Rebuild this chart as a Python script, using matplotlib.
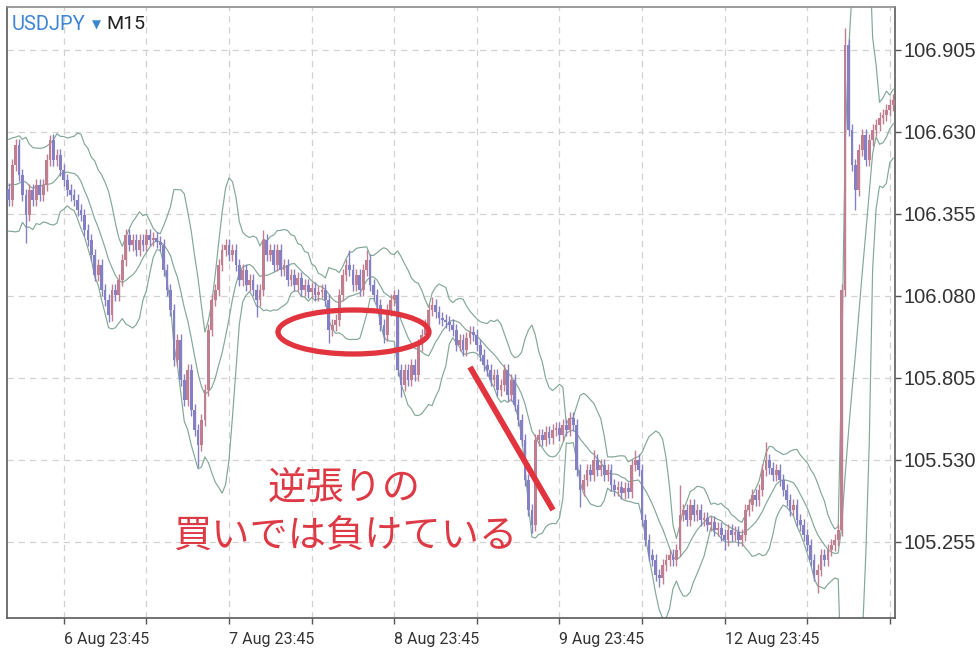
import matplotlib
matplotlib.use("Agg")
import matplotlib.pyplot as plt
from matplotlib.patches import Ellipse
from matplotlib.lines import Line2D
import numpy as np
import pandas as pd

# USDJPY closes, 30-minute steps
history = [106.50, 106.58, 106.45, 106.33, 106.40, 106.55, 106.50, 106.36, 106.44]
closes = [
    106.402, 106.519, 106.586, 106.486, 106.419, 106.352, 106.435, 106.402, 106.452, 106.419,
    106.452, 106.536, 106.603, 106.536, 106.553, 106.503, 106.469, 106.435, 106.419, 106.402,
    106.368, 106.352, 106.301, 106.268, 106.217, 106.150, 106.184, 106.100, 106.067, 106.016,
    106.100, 106.083, 106.134, 106.201, 106.284, 106.251, 106.268, 106.234, 106.268, 106.251,
    106.284, 106.268, 106.274, 106.261, 106.251, 106.167, 106.100, 106.033, 105.865, 105.932,
    105.798, 105.731, 105.832, 105.698, 105.630, 105.580, 105.664, 105.765, 105.966, 106.067,
    106.100, 106.184, 106.234, 106.251, 106.217, 106.234, 106.184, 106.134, 106.167, 106.117,
    106.134, 106.100, 106.067, 106.100, 106.268, 106.217, 106.234, 106.184, 106.234, 106.167,
    106.184, 106.134, 106.150, 106.117, 106.140, 106.100, 106.117, 106.093, 106.107, 106.083,
    106.093, 106.100, 106.067, 105.966, 105.983, 105.999, 106.083, 106.150, 106.184, 106.167,
    106.117, 106.150, 106.100, 106.167, 106.201, 106.117, 106.083, 106.050, 105.983, 105.949,
    106.033, 106.067, 106.083, 105.832, 105.781, 105.832, 105.798, 105.849, 105.815, 105.916,
    105.949, 105.983, 106.033, 106.050, 106.026, 106.006, 105.999, 105.993, 105.983, 105.966,
    105.916, 105.932, 105.899, 105.939, 105.959, 105.949, 105.916, 105.882, 105.849, 105.832,
    105.798, 105.815, 105.765, 105.781, 105.832, 105.748, 105.798, 105.714, 105.664, 105.597,
    105.463, 105.362, 105.312, 105.597, 105.614, 105.597, 105.624, 105.604, 105.630, 105.637,
    105.614, 105.647, 105.630, 105.671, 105.647, 105.496, 105.429, 105.463, 105.496, 105.480,
    105.530, 105.496, 105.513, 105.480, 105.496, 105.446, 105.429, 105.439, 105.419, 105.436,
    105.423, 105.513, 105.530, 105.496, 105.329, 105.262, 105.211, 105.195, 105.144, 105.134,
    105.178, 105.195, 105.211, 105.195, 105.228, 105.345, 105.362, 105.329, 105.379, 105.345,
    105.362, 105.329, 105.335, 105.312, 105.322, 105.295, 105.302, 105.278, 105.262, 105.295,
    105.278, 105.288, 105.262, 105.278, 105.362, 105.379, 105.412, 105.396, 105.429, 105.496,
    105.530, 105.503, 105.480, 105.496, 105.463, 105.429, 105.396, 105.362, 105.379, 105.329,
    105.312, 105.278, 105.245, 105.195, 105.144, 105.161, 105.211, 105.195, 105.228, 105.245,
    105.262, 105.295, 106.100, 106.922, 106.637, 106.519, 106.435, 106.570, 106.620, 106.536,
    106.603, 106.637, 106.653, 106.677, 106.687, 106.704, 106.721, 106.737,
]
# wicks that stick out well beyond the bodies
wick_hi = {12: 106.620, 74: 106.301, 99: 106.234, 104: 106.234, 112: 106.100, 123: 106.077,
           163: 105.690, 170: 105.563, 182: 105.563, 195: 105.446, 220: 105.590, 243: 106.979}
wick_lo = {5: 106.258, 29: 105.994, 55: 105.506, 72: 106.010, 93: 105.922, 109: 105.922,
           114: 105.741, 152: 105.285, 166: 105.372, 189: 105.104, 208: 105.228, 235: 105.084,
           246: 106.368}

price_ticks = [106.905, 106.630, 106.355, 106.080, 105.805, 105.530, 105.255]
time_ticks = [16, 40, 64, 88, 112, 136, 160, 184, 208, 232, 256]
time_labels = ["6 Aug 23:45", "", "7 Aug 23:45", "", "8 Aug 23:45", "", "9 Aug 23:45", "",
               "12 Aug 23:45", "", ""]

# bollinger bands (10 x 30min = 20 x M15)
allc = pd.Series(history + closes)
mid = allc.rolling(10).mean()
sd = allc.rolling(10).std(ddof=0)
upper = mid + 2 * sd
lower = mid - 2 * sd
xb = np.arange(-len(history), len(closes))

c = np.array(closes)
o = np.array([history[-1]] + closes[:-1])
idx = np.arange(len(c))
hi = np.maximum(o, c) + 0.02
lo = np.minimum(o, c) - 0.02
for k, v in wick_hi.items():
    hi[k] = v
for k, v in wick_lo.items():
    lo[k] = v
up = c >= o
cols = np.where(up, "#c07f90", "#8580c4")

fig = plt.figure(figsize=(9.79, 6.53), dpi=100)
ax = fig.add_axes([7 / 979, 35 / 653, 888 / 979, 611 / 653])

band_col = "#82a896"
ax.plot(xb, upper, color=band_col, lw=0.85, zorder=2)
ax.plot(xb, mid, color=band_col, lw=0.85, zorder=2)
ax.plot(xb, lower, color=band_col, lw=0.85, zorder=2)

ax.vlines(idx, lo, hi, colors=cols, lw=1.0, zorder=3)
body = np.maximum(np.abs(c - o), 0.006)
ax.bar(idx, body, bottom=np.minimum(o, c), width=0.8, color=cols, lw=0, zorder=3)

ax.set_xlim(-0.5, len(c) - 0.5)
ax.set_ylim(105.0, 107.049)

ax.yaxis.tick_right()
ax.set_yticks(price_ticks)
ax.set_yticklabels([f"{p:.3f}" for p in price_ticks], family="Liberation Sans",
                   fontsize=14.5, color="#333333")
ax.set_xticks(time_ticks)
ax.set_xticklabels(time_labels, family="Roboto", fontsize=11.5, color="#333333")
for t in ax.get_xticklabels():
    t.set_ha("left")
ax.tick_params(axis="y", length=4, width=1, color="#555555", pad=2)
ax.tick_params(axis="x", length=4, width=1, color="#555555", pad=6)

ax.grid(True, ls=(0, (5, 4)), color="#d2d2d2", lw=0.9, zorder=0)
ax.set_axisbelow(True)
for s in ax.spines.values():
    s.set_color("#5a5a5a")
    s.set_linewidth(1.2)
ax.spines["top"].set_color("#8a8a8a")


def px(x, y):
    return ((x - 7) / 888, (618 - y) / 611)


red = "#e2343f"
ax.add_patch(Ellipse(px(353.5, 332), 151 / 888, 44 / 611, transform=ax.transAxes,
                     fill=False, ec=red, lw=3.8, zorder=5))
(x1, y1), (x2, y2) = px(470, 367), px(553, 510)
ax.add_line(Line2D([x1, x2], [y1, y2], transform=ax.transAxes, color=red, lw=4.2,
                   solid_capstyle="butt", zorder=5))

txt_kw = dict(transform=ax.transAxes, family=["Noto Sans CJK JP", "DejaVu Sans"],
              fontsize=27.5, color="#de3a46", ha="center", va="center", zorder=6)
ax.text(*px(344, 488), "逆張りの", **txt_kw)
ax.text(*px(345, 537), "買いでは負けている", **txt_kw)

fig.text(12 / 979, 1 - 24 / 653, "USDJPY", family="Roboto", fontsize=14.5,
         color="#3c86d4", va="center", ha="left")
fig.text(96 / 979, 1 - 25 / 653, "▼", family="DejaVu Sans", fontsize=8.5,
         color="#3c86d4", va="center", ha="center")
fig.text(106 / 979, 1 - 24 / 653, "M15", family="Roboto", fontsize=14,
         color="#222222", va="center", ha="left")

fig.savefig("out.png", dpi=100)
